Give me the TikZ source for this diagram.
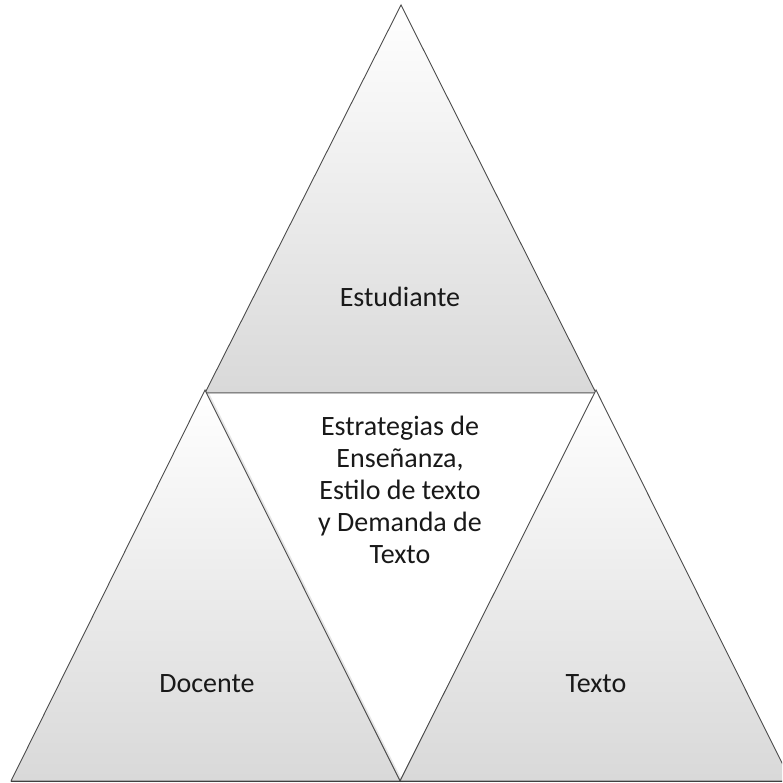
\documentclass[tikz,border=0pt]{standalone}
\usepackage{fontspec}
\setmainfont{Carlito}
\usetikzlibrary{shadows}
\tikzstyle{Part} = [
draw=black!70,
line width=0.9pt,
top color=white,
bottom color=black!15]
\tikzstyle{Hole} = [draw=black!70, line width=0.9pt, fill=white]
\tikzstyle{Label} = [font=\fontsize{28}{32}\selectfont, text=black!90, align=center]

\begin{document}
\begin{tikzpicture}[x=1pt, y=-1pt]
    \clip (0,0) rectangle (782,783);
    \fill[white] (0,0) rectangle (782,783);
    % outer corners of the pyramid
    \coordinate (top) at (401,5);
    \coordinate (ml) at (205,393);
    \coordinate (mr) at (596,393);
    \coordinate (bl) at (11,781);
    \coordinate (bm) at (400,781);
    \coordinate (br) at (791,781);
    \draw[Part] (top) -- (mr) -- (ml) -- cycle;
    \draw[Hole] (ml) -- (mr) -- (bm) -- cycle;
    \draw[Part, drop shadow={shadow xshift=3pt, shadow yshift=-1pt, opacity=0.2}] ([yshift=3pt]ml) -- (bm) -- (bl) -- cycle;
    \draw[Part] ([yshift=3pt]mr) -- (br) -- (bm) -- cycle;
    \draw[black!75, line width=1pt] (bl) -- (br);
    \node[Label] (1) at (400,297) {Estudiante};
    \node[Label] (2) at (400,490) {Estrategias de\\Enseñanza,\\Estilo de texto\\y Demanda de\\Texto};
    \node[Label] (3) at (207,684) {Docente};
    \node[Label] (4) at (596,684) {Texto};
\end{tikzpicture}
\end{document}
